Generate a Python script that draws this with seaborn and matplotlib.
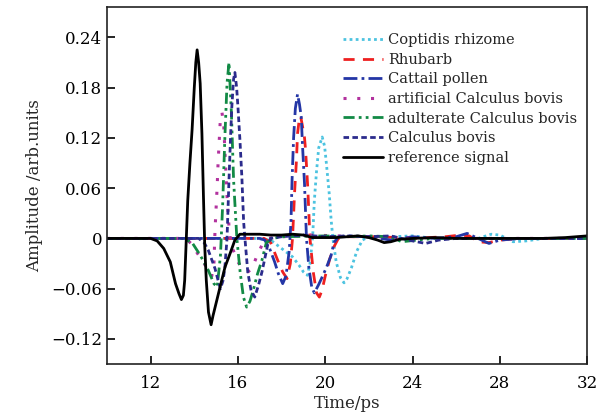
import matplotlib
matplotlib.use("Agg")
import matplotlib.pyplot as plt
import seaborn as sns

# time (ps) / amplitude (arb. units)
ref_t = [10, 11, 12, 12.3, 12.6, 12.9, 13.14, 13.3, 13.41, 13.5, 13.56, 13.62, 13.7, 13.8, 13.9, 14.0,
         14.07, 14.13, 14.2, 14.27, 14.35, 14.42, 14.48, 14.55, 14.65, 14.77, 14.86, 15.03, 15.18, 15.41,
         15.64, 15.86, 16.09, 16.5, 17.0, 17.5, 18.0, 18.5, 19.0, 19.4, 20.0, 20.5, 21.0, 21.5, 22.0,
         22.4, 22.7, 23.0, 23.4, 24, 25, 26, 27, 28, 29, 30, 31, 31.5, 32]
ref_y = [0, 0, 0, -0.003, -0.012, -0.028, -0.054, -0.066, -0.073, -0.068, -0.05, -0.01, 0.045, 0.09,
         0.13, 0.18, 0.21, 0.225, 0.21, 0.185, 0.125, 0.05, -0.01, -0.05, -0.088, -0.103, -0.092, -0.074,
         -0.058, -0.034, -0.018, -0.002, 0.005, 0.005, 0.005, 0.004, 0.004, 0.005, 0.004, 0.001, 0.001,
         0.001, 0.002, 0.003, 0.001, -0.002, -0.005, -0.004, -0.001, 0, 0.001, 0, 0, 0, 0, 0, 0.001,
         0.002, 0.003]

bovis_t = [10, 13, 14.2, 14.45, 14.64, 14.95, 15.09, 15.2, 15.32, 15.4, 15.5, 15.59, 15.66, 15.72, 15.8,
           15.86, 15.94, 16.0, 16.09, 16.18, 16.26, 16.32, 16.45, 16.6, 16.77, 16.95, 17.1, 17.23, 17.36,
           17.5, 18, 19, 20, 21, 22, 23, 24, 24.6, 25.2, 26, 32]
bovis_y = [0, 0, 0.0, -0.005, -0.014, -0.036, -0.05, -0.06, -0.05, -0.035, 0.0, 0.07, 0.12, 0.157, 0.19,
           0.198, 0.18, 0.157, 0.118, 0.073, 0.02, 0.0, -0.04, -0.062, -0.07, -0.055, -0.04, -0.024,
           -0.008, 0.0, 0.002, 0.004, 0.002, 0.003, 0.002, 0.003, -0.003, -0.006, -0.002, 0.0, 0.0]

adult_t = [10, 13.5, 13.9, 14.27, 14.64, 14.9, 15.05, 15.2, 15.3, 15.4, 15.5, 15.59, 15.7, 15.8, 15.95,
           16.1, 16.25, 16.4, 16.55, 16.7, 16.9, 17.1, 17.3, 17.6, 18, 20, 21, 22, 23, 23.5, 24.2, 25, 32]
adult_y = [0, 0, -0.005, -0.02, -0.038, -0.054, -0.058, -0.02, 0.04, 0.12, 0.185, 0.21, 0.15, 0.07, 0.0,
           -0.04, -0.07, -0.082, -0.075, -0.062, -0.042, -0.026, -0.005, 0.0, 0.002, 0.003, 0.002, 0.003,
           0.002, -0.004, -0.002, 0, 0]

artif_t = [10, 13.6, 13.85, 14.15, 14.5, 14.8, 14.9, 14.95, 15.05, 15.09, 15.2, 15.27, 15.35, 15.41, 15.5,
           15.6, 15.7, 15.8, 16.0, 16.2, 16.45, 16.65, 16.85, 17.1, 17.4, 18, 19.5, 20.5, 21.5, 22.5, 24, 32]
artif_y = [0, 0, -0.006, -0.018, -0.032, -0.045, -0.03, 0.01, 0.063, 0.09, 0.145, 0.15, 0.135, 0.1, 0.05,
           0.01, -0.01, -0.015, -0.028, -0.036, -0.04, -0.036, -0.022, -0.008, 0.0, 0.002, 0.004, 0.003,
           0.002, 0.002, 0, 0]

cattail_t = [10, 16.5, 17.0, 17.23, 17.45, 17.68, 17.85, 18.05, 18.2, 18.35, 18.43, 18.48, 18.55, 18.63,
             18.73, 18.82, 18.9, 18.96, 19.05, 19.14, 19.25, 19.38, 19.5, 19.7, 19.86, 20.05, 20.27, 20.4,
             20.6, 21, 22, 23, 24, 25, 26, 26.5, 27, 27.5, 28, 29, 32]
cattail_y = [0, 0, 0.0, -0.002, -0.012, -0.028, -0.042, -0.054, -0.045, -0.015, 0.02, 0.07, 0.12, 0.155,
             0.172, 0.16, 0.145, 0.11, 0.065, 0.0, -0.035, -0.058, -0.065, -0.055, -0.046, -0.035, -0.02,
             -0.005, 0.002, 0.003, 0.002, -0.002, 0.002, 0.0, 0.002, 0.006, 0.0, -0.006, -0.002, 0.0, 0.0]

rhubarb_t = [10, 17.2, 17.5, 17.82, 18.05, 18.25, 18.4, 18.5, 18.6, 18.68, 18.73, 18.8, 18.87, 18.95,
             19.05, 19.1, 19.2, 19.3, 19.45, 19.6, 19.73, 19.85, 20.0, 20.2, 20.4, 20.6, 21, 22.5, 24, 25.5,
             26.2, 26.6, 27, 27.5, 28, 29, 32]
rhubarb_y = [0, 0, -0.005, -0.026, -0.04, -0.048, -0.03, 0.0, 0.057, 0.093, 0.125, 0.14, 0.146, 0.135,
             0.12, 0.105, 0.06, 0.0, -0.04, -0.065, -0.07, -0.062, -0.045, -0.025, -0.01, 0.0, 0.002,
             0.002, 0.0, 0.002, 0.004, 0.003, -0.004, -0.005, -0.002, 0.0, 0.0]

coptis_t = [10, 16.8, 17.5, 17.9, 18.2, 18.5, 18.8, 19.0, 19.18, 19.3, 19.42, 19.5, 19.6, 19.7, 19.86,
            19.97, 20.05, 20.18, 20.27, 20.35, 20.5, 20.7, 20.86, 21.0, 21.2, 21.45, 21.7, 22, 23, 24, 25,
            27, 27.6, 28, 28.6, 29.2, 30, 32]
coptis_y = [0, 0, -0.002, -0.01, -0.016, -0.022, -0.032, -0.04, -0.044, -0.03, 0.0, 0.045, 0.08, 0.108,
            0.121, 0.11, 0.09, 0.054, 0.022, 0.0, -0.028, -0.047, -0.053, -0.048, -0.035, -0.015, -0.002,
            0.002, 0.002, 0.003, 0.0, 0.0, 0.005, 0.004, -0.004, -0.003, 0.0, 0.0]

x_ticks = [12, 16, 20, 24, 28, 32]
y_ticks = [-0.12, -0.06, 0, 0.06, 0.12, 0.18, 0.24]
y_labels = ["\u22120.12", "\u22120.06", "0", "0.06", "0.12", "0.18", "0.24"]

sns.set_style("ticks")
plt.rcParams["font.family"] = ["DejaVu Serif"]
plt.rcParams["axes.unicode_minus"] = True

fig = plt.figure(figsize=(6.01, 4.19), dpi=100)
ax = fig.add_axes([0.178, 0.131, 0.799, 0.852])

series = [
    (coptis_t, coptis_y, "Coptidis rhizome", "#4cc3e0", (0, (1, 1.2)), 2.0),
    (rhubarb_t, rhubarb_y, "Rhubarb", "#ee2020", (0, (4, 3)), 2.0),
    (cattail_t, cattail_y, "Cattail pollen", "#2436a6", (0, (5, 1.5, 1, 1.5)), 2.0),
    (artif_t, artif_y, "artificial Calculus bovis", "#b2329e", (0, (1, 3.5)), 2.2),
    (adult_t, adult_y, "adulterate Calculus bovis", "#128a45", (0, (4, 1.5, 1, 1.5, 1, 1.5)), 2.0),
    (bovis_t, bovis_y, "Calculus bovis", "#2b2b8c", (0, (2, 1.2)), 2.0),
    (ref_t, ref_y, "reference signal", "black", "-", 2.0),
]
for t, y, name, col, ls, lw in series:
    sns.lineplot(x=t, y=y, ax=ax, color=col, linestyle=ls, linewidth=lw, label=name)

ax.set_xlim(10, 32)
ax.set_ylim(-0.15, 0.276)
ax.set_xticks(x_ticks)
ax.set_yticks(y_ticks)
ax.set_yticklabels(y_labels)
ax.tick_params(direction="in", length=6, width=1.2, labelsize=12, colors="black")
ax.tick_params(axis="x", pad=8)
ax.set_xlabel("Time/ps", fontsize=12, labelpad=2)
ax.set_ylabel("Amplitude /arb.units", fontsize=12, labelpad=6)
for s in ax.spines.values():
    s.set_linewidth(1.2)
    s.set_color("#222222")

ax.legend(loc="upper right", bbox_to_anchor=(1.0, 0.955), frameon=False, fontsize=10.5,
          handlelength=2.8, handletextpad=0.3, labelspacing=0.38, borderaxespad=0.3)

fig.savefig("out.png", dpi=100)
